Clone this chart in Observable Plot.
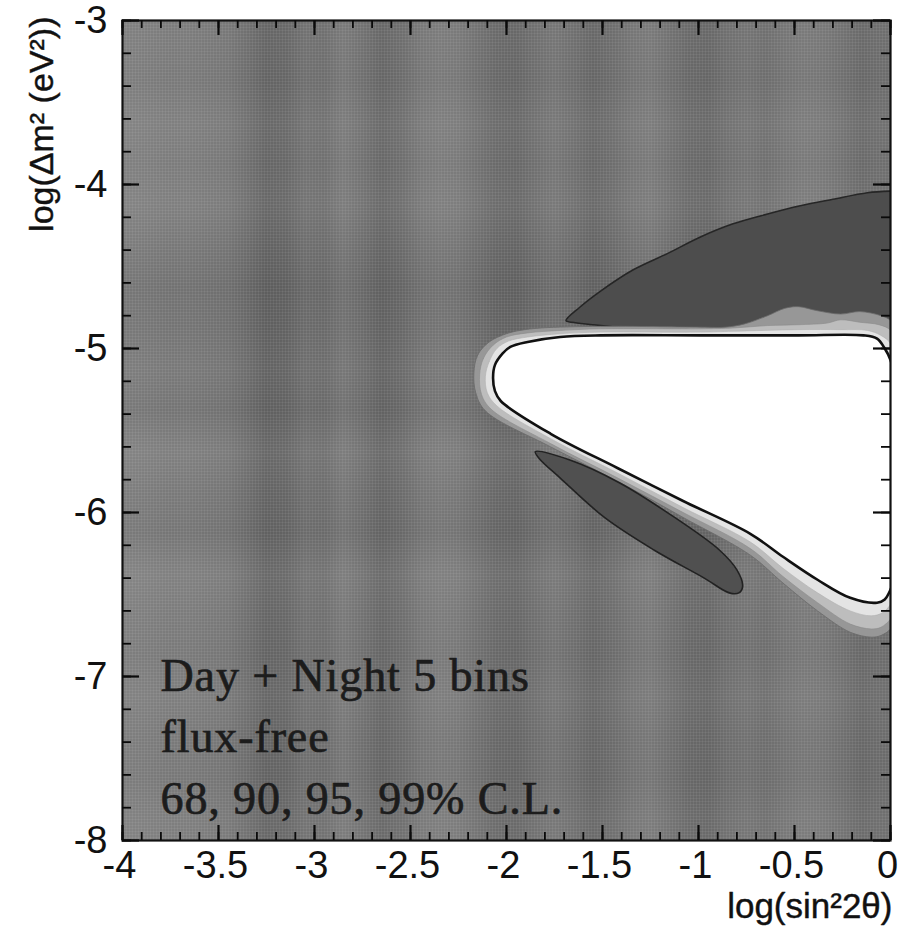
<!DOCTYPE html>
<html><head><meta charset="utf-8">
<script src="https://cdn.jsdelivr.net/npm/d3@7"></script>
<script src="https://cdn.jsdelivr.net/npm/@observablehq/plot@0.6"></script>
<style>
body{margin:0;background:#fff} #chart svg{display:block}
.annot text{letter-spacing:0.9px}
</style>
</head><body><div id="chart"></div>
<script>
// ---------- axis ticks ----------
const xTicks = [-4, -3.5, -3, -2.5, -2, -1.5, -1, -0.5, 0];
const xTickLabels = ["-4", "-3.5", "-3", "-2.5", "-2", "-1.5", "-1", "-0.5", "0"];
const yTicks = [-3, -4, -5, -6, -7, -8];
const yTickLabels = ["-3", "-4", "-5", "-6", "-7", "-8"];
const xMinorTicks = d3.range(-40, 1).map(i => i / 10);
const yMinorTicks = d3.range(-40, -14).map(i => i / 5);

// ---------- background chi2 shading (grey level per 0.1 column, tint per 0.25 row) ----------
const bgColumnGray = [128,126,124,124,122,120,112,102,104,114,112,122,114,104,110,120,124,122,114,106,
                      104,112,118,112,104,110,118,122,114,106,104,112,116,112,118,122,120,114,106,110];
const bgRowTint = [0,0.02,-0.03,0,-0.03,0.03,0.08,0.06,0.02,0.06,-0.03,0.02,0.05,-0.04,0,0.02,-0.02,0.02,0.03,-0.02];

// ---------- contours (log sin^2 2θ, log Δm^2) ----------
const cl99 = [[-2.17,-5.15],[-2.15,-5.04],[-2.09,-4.96],[-2.00,-4.91],[-1.93,-4.89],[-1.82,-4.875],[-1.51,-4.865],
  [-0.99,-4.87],[-0.86,-4.87],[-0.76,-4.85],[-0.64,-4.80],[-0.55,-4.755],[-0.48,-4.745],[-0.38,-4.77],[-0.26,-4.79],
  [-0.16,-4.775],[-0.05,-4.80],[0,-4.83],[0.02,-4.9],[0.02,-6.65],[0,-6.71],[-0.05,-6.75],[-0.1,-6.76],[-0.21,-6.73],
  [-0.38,-6.60],[-0.56,-6.43],[-0.73,-6.26],[-1.08,-6.03],[-1.42,-5.81],[-1.77,-5.60],[-2.11,-5.38],[-2.16,-5.27]];
const cl95 = [[-2.14,-5.16],[-2.12,-5.06],[-2.07,-4.98],[-2.00,-4.93],[-1.89,-4.905],[-1.72,-4.89],[-1.51,-4.88],
  [-0.99,-4.88],[-0.82,-4.875],[-0.64,-4.86],[-0.48,-4.855],[-0.33,-4.845],[-0.26,-4.825],[-0.16,-4.84],[-0.06,-4.855],
  [0,-4.89],[0.02,-5.0],[0.02,-6.6],[0,-6.65],[-0.05,-6.70],[-0.1,-6.71],[-0.21,-6.68],[-0.38,-6.55],[-0.56,-6.39],
  [-0.73,-6.22],[-1.08,-6.00],[-1.42,-5.79],[-1.77,-5.58],[-2.08,-5.37],[-2.13,-5.28]];
const cl90 = [[-2.11,-5.17],[-2.09,-5.08],[-2.05,-5.00],[-1.99,-4.955],[-1.89,-4.93],[-1.72,-4.91],[-1.51,-4.90],
  [-0.99,-4.90],[-0.82,-4.895],[-0.48,-4.885],[-0.26,-4.885],[-0.12,-4.89],[-0.05,-4.92],[0,-4.97],[0.02,-5.1],
  [0.02,-6.5],[0,-6.56],[-0.04,-6.61],[-0.1,-6.63],[-0.21,-6.60],[-0.38,-6.49],[-0.56,-6.34],[-0.73,-6.18],
  [-1.08,-5.97],[-1.42,-5.76],[-1.77,-5.55],[-2.05,-5.35],[-2.10,-5.27]];
const cl68 = [[-2.07,-5.18],[-2.06,-5.10],[-2.02,-5.03],[-1.98,-4.99],[-1.89,-4.96],[-1.72,-4.93],[-1.51,-4.92],
  [-0.99,-4.92],[-0.48,-4.92],[-0.14,-4.92],[-0.07,-4.94],[-0.03,-5.00],[0.0,-5.07],[0.02,-5.2],[0.02,-6.4],
  [0.0,-6.47],[-0.03,-6.53],[-0.07,-6.55],[-0.21,-6.52],[-0.38,-6.41],[-0.56,-6.27],[-0.73,-6.13],[-1.08,-5.93],
  [-1.42,-5.73],[-1.77,-5.52],[-2.03,-5.32],[-2.06,-5.26]];
const upperIsland = [[-1.69,-4.83],[-1.62,-4.75],[-1.51,-4.65],[-1.34,-4.52],[-1.16,-4.42],[-0.99,-4.32],[-0.82,-4.24],
  [-0.64,-4.18],[-0.47,-4.13],[-0.30,-4.09],[-0.12,-4.05],[0,-4.04],[0.02,-4.04],[0.02,-4.9],[-0.5,-4.92],
  [-0.99,-4.90],[-1.34,-4.88],[-1.55,-4.855],[-1.66,-4.84]];
const lowerIsland = [[-1.85,-5.63],[-1.67,-5.68],[-1.41,-5.82],[-1.15,-6.01],[-0.89,-6.23],[-0.80,-6.35],[-0.77,-6.45],
  [-0.79,-6.49],[-0.84,-6.49],[-0.97,-6.40],[-1.23,-6.23],[-1.49,-6.03],[-1.72,-5.79],[-1.83,-5.67]];

const annotationLines = ["Day + Night 5 bins", "flux-free", "68, 90, 95, 99% C.L."];
const xTitle = "log(sin²2θ)";
const yTitle = "log(Δm² (eV²))";

// build background sample points
const bgPoints = [];
const xc = [-4, ...bgColumnGray.map((_, i) => -3.95 + 0.1 * i), 0];
const yc = [-3, ...bgRowTint.map((_, j) => -3.125 - 0.25 * j), -8];
xc.forEach((x, i) => {
  const g = bgColumnGray[Math.max(0, Math.min(bgColumnGray.length - 1, i - 1))];
  yc.forEach((y, j) => {
    const t = bgRowTint[Math.max(0, Math.min(bgRowTint.length - 1, j - 1))];
    bgPoints.push({x, y, v: g * (1 - t)});
  });
});

const W = 898, H = 927, mL = 122, mR = 8, mT = 20, mB = 87;
const pxPerY = (H - mT - mB) / 5;   // pixels per unit of log Δm²
const pxPerX = (W - mL - mR) / 4;   // pixels per unit of log sin²2θ
const P = d => d[0], Q = d => d[1];
const sans = "Liberation Sans, Arial, Helvetica, sans-serif";

const chart = Plot.plot({
  width: W, height: H,
  marginLeft: mL, marginRight: mR, marginTop: mT, marginBottom: mB,
  x: {domain: [-4, 0], label: null},
  y: {domain: [-8, -3], label: null},
  color: {type: "linear", domain: [0, 255], range: ["black", "white"]},
  style: {fontFamily: sans, background: "white"},
  marks: [
    Plot.raster(bgPoints, {x: "x", y: "y", fill: "v", interpolate: "barycentric"}),
    Plot.line(upperIsland, {x: P, y: Q, curve: "catmull-rom-closed", fill: "#4d4d4d", stroke: "#262626", strokeWidth: 1.6, clip: true}),
    Plot.line(cl99, {x: P, y: Q, curve: "catmull-rom-closed", fill: "#979797", stroke: "#6a6a6a", strokeWidth: 0.8, clip: true}),
    Plot.line(cl95, {x: P, y: Q, curve: "catmull-rom-closed", fill: "#bdbdbd", stroke: "#8a8a8a", strokeWidth: 0.6, clip: true}),
    Plot.line(cl90, {x: P, y: Q, curve: "catmull-rom-closed", fill: "#e4e4e4", stroke: "#b0b0b0", strokeWidth: 0.6, clip: true}),
    Plot.line(cl68, {x: P, y: Q, curve: "catmull-rom-closed", fill: "white", stroke: "#111", strokeWidth: 2.6, clip: true}),
    Plot.line(lowerIsland, {x: P, y: Q, curve: "catmull-rom-closed", fill: "#505050", stroke: "#222", strokeWidth: 1.6, clip: true}),
    Plot.frame({stroke: "#111", strokeWidth: 2.2}),
    // inward ticks: bottom / top (x), left / right (y)
    Plot.ruleX(xMinorTicks, {x: d => d, y1: -8, y2: -8 + 8 / pxPerY, stroke: "#0a0a0a", strokeWidth: 1.8}),
    Plot.ruleX(xMinorTicks, {x: d => d, y1: -3, y2: -3 - 8 / pxPerY, stroke: "#0a0a0a", strokeWidth: 1.8}),
    Plot.ruleX(xTicks, {x: d => d, y1: -8, y2: -8 + 15 / pxPerY, stroke: "#0a0a0a", strokeWidth: 2.2}),
    Plot.ruleX(xTicks, {x: d => d, y1: -3, y2: -3 - 15 / pxPerY, stroke: "#0a0a0a", strokeWidth: 2.2}),
    Plot.ruleY(yMinorTicks, {y: d => d, x1: -4, x2: -4 + 9 / pxPerX, stroke: "#0a0a0a", strokeWidth: 1.8}),
    Plot.ruleY(yMinorTicks, {y: d => d, x1: 0, x2: -9 / pxPerX, stroke: "#0a0a0a", strokeWidth: 1.8}),
    Plot.ruleY(yTicks, {y: d => d, x1: -4, x2: -4 + 17 / pxPerX, stroke: "#0a0a0a", strokeWidth: 2.2}),
    Plot.ruleY(yTicks, {y: d => d, x1: 0, x2: -17 / pxPerX, stroke: "#0a0a0a", strokeWidth: 2.2}),
    // tick labels
    Plot.axisX(xTicks, {anchor: "bottom", tickSize: 0, tickPadding: 11, dx: -3, tickFormat: (d, i) => xTickLabels[i], fontSize: 38, fill: "#111", stroke: "#111", strokeWidth: 0.5, label: null}),
    Plot.axisY(yTicks, {anchor: "left", tickSize: 0, tickPadding: 15, tickFormat: (d, i) => yTickLabels[i], fontSize: 38, fill: "#111", stroke: "#111", strokeWidth: 0.5, label: null}),
    // axis titles
    Plot.text([xTitle], {text: d => d, frameAnchor: "bottom-right", dx: 2, dy: 77, textAnchor: "end", lineAnchor: "bottom", fontSize: 35, fill: "#111", stroke: "#111", strokeWidth: 0.4}),
    Plot.text([yTitle], {text: d => d, frameAnchor: "top-left", dx: -80, dy: -4, rotate: -90, textAnchor: "end", lineAnchor: "middle", fontSize: 34, fill: "#111", stroke: "#111", strokeWidth: 0.4}),
    // annotation
    Plot.text([annotationLines.join("\n")], {text: d => d, className: "annot", frameAnchor: "bottom-left", dx: 38, dy: -27, textAnchor: "start", lineAnchor: "bottom", lineHeight: 1.33, fontSize: 46, fontFamily: "Liberation Serif, Times New Roman, serif", fill: "#1c1c1c", stroke: "#1c1c1c", strokeWidth: 0.7})
  ]
});

// fine half-tone grain of the scanned original, laid over the shaded background only
const svg = d3.select(chart);
const defs = svg.insert("defs", ":first-child");
const pat = defs.append("pattern").attr("id", "grain").attr("width", 3).attr("height", 3).attr("patternUnits", "userSpaceOnUse");
pat.append("rect").attr("width", 3).attr("height", 1).attr("fill", "white").attr("fill-opacity", 0.06);
pat.append("rect").attr("width", 1).attr("height", 3).attr("fill", "white").attr("fill-opacity", 0.06);
const rasterG = svg.select("g[aria-label='raster']").node();
if (rasterG) {
  const overlay = document.createElementNS("http://www.w3.org/2000/svg", "rect");
  overlay.setAttribute("x", mL); overlay.setAttribute("y", mT);
  overlay.setAttribute("width", W - mL - mR); overlay.setAttribute("height", H - mT - mB);
  overlay.setAttribute("fill", "url(#grain)");
  rasterG.parentNode.insertBefore(overlay, rasterG.nextSibling);
}
document.getElementById("chart").appendChild(chart);
</script>
</body></html>
